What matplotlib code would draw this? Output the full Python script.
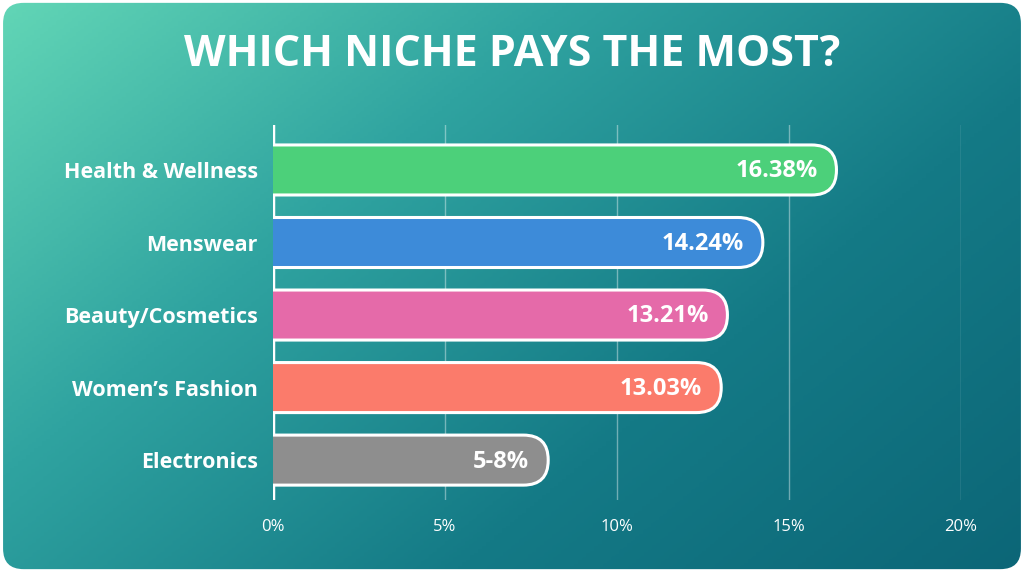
import matplotlib.pyplot as plt
import numpy as np
from matplotlib.patches import FancyBboxPatch
from matplotlib.colors import LinearSegmentedColormap

categories = ["Health & Wellness", "Menswear", "Beauty/Cosmetics", "Women\u2019s Fashion", "Electronics"]
values = [16.38, 14.24, 13.21, 13.03, 8.0]
value_labels = ["16.38%", "14.24%", "13.21%", "13.03%", "5-8%"]
colors = ["#4cd07a", "#3d8bd9", "#e56aa9", "#fb7b6b", "#8e8e8e"]
ticks = [0, 5, 10, 15, 20]
tick_labels = ["0%", "5%", "10%", "15%", "20%"]

plt.rcParams["font.family"] = ["Open Sans", "DejaVu Sans"]

fig = plt.figure(figsize=(10.24, 5.72), dpi=100)

# gradient background with rounded corners
bg = fig.add_axes([0, 0, 1, 1])
bg.set_axis_off()
xx, yy = np.meshgrid(np.linspace(0, 1, 256), np.linspace(0, 1, 256))
grad = 0.6 * xx + 0.4 * yy
cmap = LinearSegmentedColormap.from_list("bg", ["#62d6b6", "#2fa3a0", "#147a86", "#0c6677"])
im = bg.imshow(grad, cmap=cmap, extent=[0, 1, 0, 1], aspect="auto", origin="upper")
clip = FancyBboxPatch((0.003, 0.005), 0.994, 0.99, boxstyle="round,pad=0,rounding_size=0.02",
                      transform=bg.transAxes, facecolor="none", edgecolor="none", mutation_aspect=1.79)
bg.add_patch(clip)
im.set_clip_path(clip)
bg.set_xlim(0, 1)
bg.set_ylim(0, 1)

fig.text(0.5, 0.905, "WHICH NICHE PAYS THE MOST?", ha="center", va="center",
         color="white", fontsize=31, fontweight="bold")

ax = fig.add_axes([273 / 1024, 1 - 500 / 572, 688 / 1024, 375 / 572])
ax.set_facecolor("none")
ax.set_xlim(0, 20)
ax.set_ylim(4.55, -0.62)
for s in ax.spines.values():
    s.set_visible(False)

for t in ticks[1:]:
    ax.axvline(t, color="white", alpha=0.4, lw=1)
ax.axvline(0, color="white", lw=2.5)

h = 50 / 72.5
r = 0.72
for i, (v, c, lab) in enumerate(zip(values, colors, value_labels)):
    box = FancyBboxPatch((-2, i - h / 2), v + 2, h,
                         boxstyle=f"round,pad=0,rounding_size={r}",
                         mutation_aspect=0.475, facecolor=c, edgecolor="white", lw=2.2, zorder=3)
    ax.add_patch(box)
    ax.text(v - 0.55, i + 0.02, lab, ha="right", va="center", color="white",
            fontsize=17, fontweight="bold", zorder=4)

ax.set_yticks(range(len(categories)))
ax.set_yticklabels(categories, color="white", fontsize=15.5, fontweight="bold")
ax.set_xticks(ticks)
ax.set_xticklabels(tick_labels, color="white", fontsize=12)
ax.tick_params(length=0)
ax.tick_params(axis="y", pad=11)
ax.tick_params(axis="x", pad=14)

fig.savefig("out.png", dpi=100)
